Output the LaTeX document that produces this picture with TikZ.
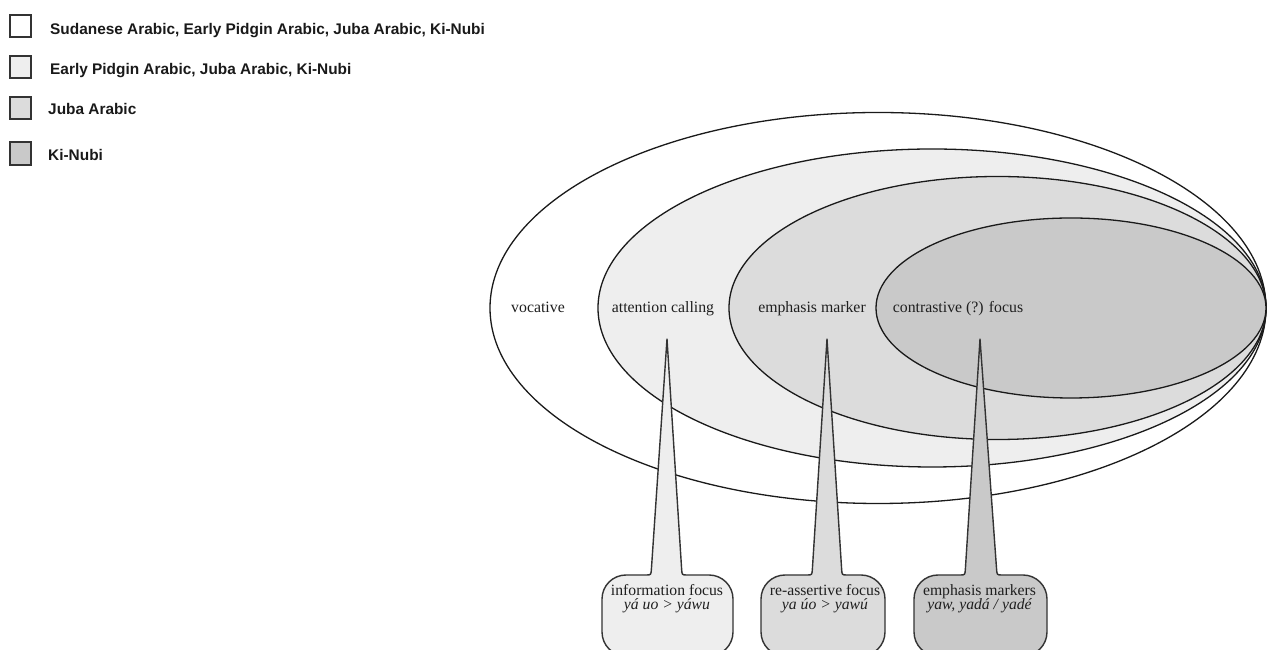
\documentclass[tikz,border=0pt]{standalone}
\usepackage{fontspec}
\setmainfont{Liberation Serif}
\newfontfamily\legendfont{Liberation Sans}
\usetikzlibrary{calc}
\definecolor{cA}{HTML}{FFFFFF}
\definecolor{cB}{HTML}{EEEEEE}
\definecolor{cC}{HTML}{DCDCDC}
\definecolor{cD}{HTML}{C9C9C9}
\definecolor{lineC}{HTML}{1A1A1A}
\definecolor{boxline}{HTML}{333333}
\begin{document}
\begin{tikzpicture}[x=1pt,y=1pt,
  ell/.style={draw=lineC,line width=1.3pt},
  lbl/.style={font=\fontsize{15.8}{14}\selectfont,anchor=base,inner sep=0pt,text=black!88},
  boxtxt/.style={font=\fontsize{15.7}{14}\selectfont,anchor=base,inner sep=0pt,text=black!88},
  legbox/.style={draw=boxline,line width=1.1pt},
  legtxt/.style={font=\legendfont\bfseries\fontsize{15.4}{16}\selectfont,anchor=base west,inner sep=0pt,text=black!90},
  callout/.style={draw=boxline,line width=1.4pt,line join=round}]
\useasboundingbox (0,0) rectangle (1267,650);
\clip (0,0) rectangle (1267,650);

% legend
\draw[legbox,fill=cA] (10,613) rectangle (31,635);
\draw[legbox,fill=cB] (10,572) rectangle (31,594);
\draw[legbox,fill=cC] (10,531) rectangle (31,553);
\draw[legbox,fill=cD] (10,485) rectangle (31,508);
\node[legtxt] (l1) at (50,615) {Sudanese Arabic, Early Pidgin Arabic, Juba Arabic, Ki-Nubi};
\node[legtxt] (l2) at (50,575) {Early Pidgin Arabic, Juba Arabic, Ki-Nubi};
\node[legtxt] (l3) at (48,535) {Juba Arabic};
\node[legtxt] (l4) at (48,489.3) {Ki-Nubi};

% nested ellipses
\draw[ell,fill=cA] (878,342) ellipse [x radius=388, y radius=195.5];
\draw[ell,fill=cB] (932,342) ellipse [x radius=334, y radius=159];
\draw[ell,fill=cC] (997.5,342) ellipse [x radius=268.5, y radius=131.5];
\draw[ell,fill=cD] (1071,342) ellipse [x radius=195, y radius=90];

\node[lbl] (voc) at (538,337) {vocative};
\node[lbl] (att) at (663,337) {attention calling};
\node[lbl] (emp) at (812,337) {emphasis marker};
\node[lbl] (con) at (958,337) {contrastive (?) focus};

% callout tips
\coordinate (t1) at (667,311);
\coordinate (t2) at (827,311);
\coordinate (t3) at (980,311);

\def\T{75}\def\B{-6}\def\r{24}
% box 1
\draw[callout,fill=cB] (602,\B+\r) -- (602,\T-\r) arc[start angle=180,end angle=90,radius=\r]
  -- (646,\T) .. controls (651,\T) .. ($(651,\T)!6pt!(t1)$) -- (t1)
  -- ($(682,\T)!6pt!(t1)$) .. controls (682,\T) .. (687,\T)
  -- (733-\r,\T) arc[start angle=90,end angle=0,radius=\r]
  -- (733,\B+\r) arc[start angle=0,end angle=-90,radius=\r]
  -- (602+\r,\B) arc[start angle=270,end angle=180,radius=\r] -- cycle;
% box 2
\draw[callout,fill=cC] (761,\B+\r) -- (761,\T-\r) arc[start angle=180,end angle=90,radius=\r]
  -- (807,\T) .. controls (812,\T) .. ($(812,\T)!6pt!(t2)$) -- (t2)
  -- ($(842,\T)!6pt!(t2)$) .. controls (842,\T) .. (847,\T)
  -- (885-\r,\T) arc[start angle=90,end angle=0,radius=\r]
  -- (885,\B+\r) arc[start angle=0,end angle=-90,radius=\r]
  -- (761+\r,\B) arc[start angle=270,end angle=180,radius=\r] -- cycle;
% box 3
\draw[callout,fill=cD] (914,\B+\r) -- (914,\T-\r) arc[start angle=180,end angle=90,radius=\r]
  -- (960,\T) .. controls (965,\T) .. ($(965,\T)!6pt!(t3)$) -- (t3)
  -- ($(997,\T)!6pt!(t3)$) .. controls (997,\T) .. (1002,\T)
  -- (1047-\r,\T) arc[start angle=90,end angle=0,radius=\r]
  -- (1047,\B+\r) arc[start angle=0,end angle=-90,radius=\r]
  -- (914+\r,\B) arc[start angle=270,end angle=180,radius=\r] -- cycle;

\node[boxtxt] (b1a) at (667,54.3) {information focus};
\node[boxtxt] (b1b) at (667,40.7) {\itshape yá uo > yáwu};
\node[boxtxt] (b2a) at (825,54.3) {re-assertive focus};
\node[boxtxt] (b2b) at (825,40.7) {\itshape ya úo > yawú};
\node[boxtxt] (b3a) at (979.5,54.3) {emphasis markers};
\node[boxtxt] (b3b) at (979.5,40.7) {\itshape yaw, yadá / yadé};
\end{tikzpicture}
\end{document}
